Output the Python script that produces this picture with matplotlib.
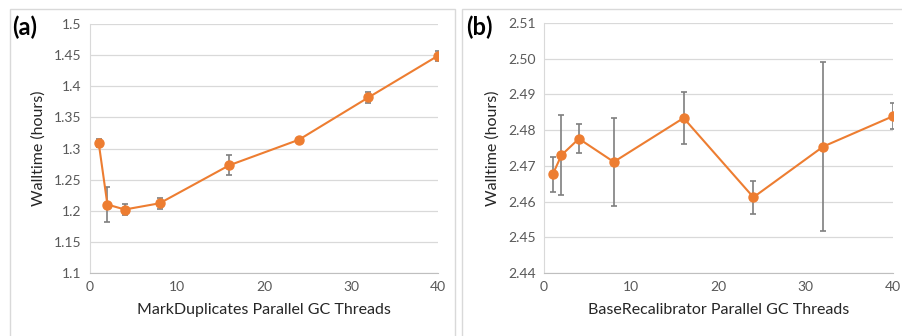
import matplotlib
matplotlib.use("Agg")
import matplotlib.pyplot as plt
from matplotlib.patches import Rectangle

plt.rcParams['font.family'] = ['Lato', 'DejaVu Sans']

# 数据
threads = [1, 2, 4, 8, 16, 24, 32, 40]
md_time = [1.309, 1.210, 1.202, 1.212, 1.273, 1.314, 1.382, 1.449]
md_err = [0.006, 0.028, 0.009, 0.009, 0.016, 0.002, 0.0095, 0.008]
br_time = [2.4676, 2.4730, 2.4776, 2.4711, 2.4834, 2.4612, 2.4754, 2.4839]
br_err = [0.0049, 0.0112, 0.0040, 0.0124, 0.0073, 0.0047, 0.0237, 0.0037]

md_yticks = [1.1, 1.15, 1.2, 1.25, 1.3, 1.35, 1.4, 1.45, 1.5]
md_ylabels = ['1.1', '1.15', '1.2', '1.25', '1.3', '1.35', '1.4', '1.45', '1.5']
br_yticks = [2.44, 2.45, 2.46, 2.47, 2.48, 2.49, 2.50, 2.51]
br_ylabels = ['2.44', '2.45', '2.46', '2.47', '2.48', '2.49', '2.50', '2.51']
xticks = [0, 10, 20, 30, 40]

orange = '#ED7D31'
gray_txt = '#595959'

W, H = 903, 336
fig = plt.figure(figsize=(W / 100, H / 100), dpi=100)

# 面板边框
for x0, x1 in [(10, 455), (462, 903)]:
    fig.patches.append(Rectangle((x0 / W, -0.1), (x1 - x0) / W, (336 - 9) / H + 0.1,
                                 transform=fig.transFigure, fill=False,
                                 edgecolor='#D9D9D9', lw=1))


def draw(rect, y, err, yticks, ylabels, xlabel, tag, tag_x):
    ax = fig.add_axes(rect)
    ax.errorbar(threads, y, yerr=err, fmt='none', ecolor='#7F7F7F', elinewidth=1.2,
                capsize=2.5, capthick=1.2, zorder=2)
    ax.plot(threads, y, color=orange, lw=1.5, marker='o', ms=6.5, zorder=3)
    ax.set_xlim(0, 40)
    ax.set_ylim(yticks[0], yticks[-1])
    ax.set_xticks(xticks)
    ax.set_yticks(yticks)
    ax.set_yticklabels(ylabels)
    ax.tick_params(length=0, labelsize=10, colors=gray_txt, pad=6)
    ax.grid(axis='y', color='#D9D9D9', lw=0.9)
    ax.set_axisbelow(True)
    for s in ['top', 'right']:
        ax.spines[s].set_visible(False)
    ax.spines['left'].set_color('#D9D9D9')
    ax.spines['bottom'].set_color('#BFBFBF')
    ax.set_xlabel(xlabel, fontsize=11.5, color='#262626', labelpad=7)
    ax.set_ylabel('Walltime (hours)', fontsize=11.5, color='#262626', labelpad=6)
    fig.text(tag_x / W, 1 - 27 / H, tag, fontsize=17, fontweight='bold',
             va='center', ha='left', color='black')
    return ax


draw([90 / W, 63 / H, 348 / W, 249 / H], md_time, md_err, md_yticks, md_ylabels,
     'MarkDuplicates Parallel GC Threads', '(a)', 12)
draw([544 / W, 63 / H, 349 / W, 250 / H], br_time, br_err, br_yticks, br_ylabels,
     'BaseRecalibrator Parallel GC Threads', '(b)', 466)

fig.savefig('out.png', dpi=100)
